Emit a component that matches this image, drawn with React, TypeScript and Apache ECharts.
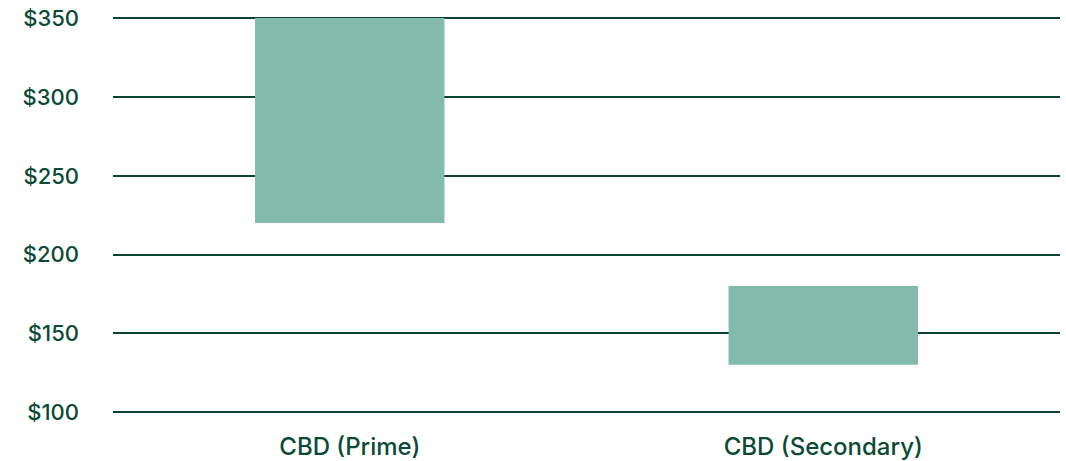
import React, { useEffect, useRef } from "react";
import * as echarts from "echarts";

const categories = ["CBD (Prime)", "CBD (Secondary)"];
const lowValues = [220, 130];
const highValues = [350, 180];
const yTicks = [100, 150, 200, 250, 300, 350];

export default function App() {
  const ref = useRef<HTMLDivElement>(null);
  useEffect(() => {
    if (!ref.current) return;
    const chart = echarts.init(ref.current, undefined, { renderer: "svg" });
    const spans = highValues.map((h, i) => h - lowValues[i]);
    chart.setOption({
      animation: false,
      grid: { left: 113, right: 6, top: 18, bottom: 49, containLabel: false },
      xAxis: {
        type: "category",
        data: categories,
        axisLine: { show: false },
        axisTick: { show: false },
        axisLabel: {
          color: "#0B4A36",
          fontSize: 24,
          fontFamily: "Inter, 'Noto Sans', sans-serif",
          fontWeight: 500,
          margin: 22,
        },
      },
      yAxis: {
        type: "value",
        min: yTicks[0],
        max: yTicks[yTicks.length - 1],
        interval: 50,
        axisLine: { show: false },
        axisTick: { show: false },
        splitLine: { lineStyle: { color: "#0A4330", width: 2 } },
        axisLabel: {
          color: "#0B4A36",
          fontSize: 22,
          fontFamily: "Inter, 'Noto Sans', sans-serif",
          fontWeight: 500,
          margin: 34,
          formatter: (v: number) => "$" + v,
        },
      },
      series: [
        {
          type: "bar",
          stack: "range",
          data: lowValues,
          itemStyle: { color: "transparent" },
          barWidth: "40%",
          silent: true,
        },
        {
          type: "bar",
          stack: "range",
          data: spans,
          itemStyle: { color: "#82BAAB" },
          barWidth: "40%",
        },
      ],
    });
    return () => chart.dispose();
  }, []);
  return <div ref={ref} style={{ width: 1066, height: 461, position: "absolute", left: 0, top: 0 }} />;
}
